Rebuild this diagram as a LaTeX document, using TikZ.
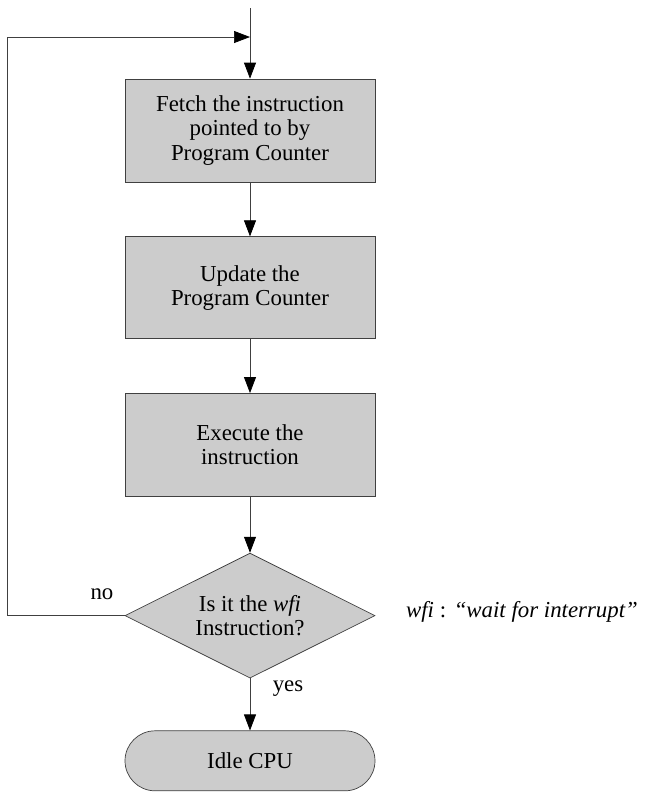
\documentclass[tikz,border=0pt]{standalone}
\usepackage{fontspec}
\setmainfont{Liberation Serif}
\usepackage{xcolor}
\usepackage{tikz}
\usetikzlibrary{shapes.geometric, arrows.meta, positioning, calc}

\definecolor{boxgray}{HTML}{CCCCCC}
\definecolor{linegray}{HTML}{404040}

\begin{document}
\begin{tikzpicture}[
    box/.style={draw=linegray, fill=boxgray, minimum width=5cm, align=center, font=\fontsize{13}{13.8}\selectfont},
    decision/.style={diamond, aspect=2, draw=linegray, fill=boxgray, minimum width=5cm, minimum height=2.5cm, inner sep=0pt, align=center, font=\fontsize{13}{13.8}\selectfont},
    terminal/.style={draw=linegray, fill=boxgray, rounded corners=0.6cm, minimum width=5cm, minimum height=1.2cm, align=center, font=\fontsize{13}{13.8}\selectfont},
    arr/.style={draw=linegray, -{Triangle[length=0.32cm, width=0.24cm, color=black]}},
    lbl/.style={font=\fontsize{13}{13.8}\selectfont}
]
    \useasboundingbox (0,0) rectangle (13.02,-15.92);

    \node[box, minimum height=2.06cm] (fetch) at (5.0,-2.61) {Fetch the instruction\\pointed to by\\Program Counter};
    \node[box, minimum height=2.04cm, below=1.08cm of fetch] (update) {Update the\\Program Counter};
    \node[box, minimum height=2.06cm, below=1.08cm of update] (exec) {Execute the\\instruction};
    \node[decision, below=1.12cm of exec] (wfi) {Is it the \textit{wfi}\\Instruction?};
    \node[terminal, below=1.04cm of wfi] (idle) {Idle CPU};

    \coordinate (start) at (fetch.north |- 0,-0.16);
    \coordinate (join) at (fetch.north |- 0,-0.74);

    \draw[arr] (start) -- (fetch.north);
    \draw[arr] (fetch) -- (update);
    \draw[arr] (update) -- (exec);
    \draw[arr] (exec) -- (wfi);
    \draw[arr] (wfi) -- (idle);
    \draw[arr] (wfi.west) -- ++(-2.34,0) |- (join);

    \node[lbl] (no) at (2.04,-11.88) {no};
    \node[lbl] (yes) at (5.76,-13.78) {yes};
    \node[lbl] (note) at (10.44,-12.24) {\textit{wfi} : \textit{“wait for interrupt”}};
\end{tikzpicture}
\end{document}
